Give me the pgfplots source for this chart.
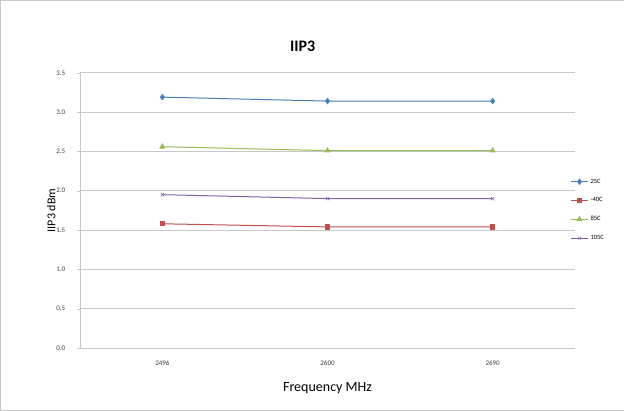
\documentclass[border=0pt]{standalone}
\usepackage{pgfplots}
\pgfplotsset{compat=1.18}
\usepackage{fontspec}
\setmainfont{Carlito}
\definecolor{sblue}{RGB}{74,126,187}
\definecolor{sred}{RGB}{192,80,77}
\definecolor{sgreen}{RGB}{155,187,89}
\definecolor{spurple}{RGB}{128,100,162}
\definecolor{gridc}{RGB}{200,200,200}
\begin{document}
\begin{tikzpicture}[x=1pt,y=1pt]
\draw[gridc,fill=white] (0.5,0.5) rectangle (623.5,410.5);
\begin{axis}[
  at={(80pt,63pt)}, anchor=south west,
  scale only axis, width=495pt, height=275pt,
  xmin=-0.5, xmax=2.5, ymin=0, ymax=3.5,
  xtick={0,1,2}, xticklabels={2496,2600,2690},
  ytick={0,0.5,...,3.5},
  /pgf/number format/assume math mode=true,
  tick label style={font=\fontsize{7}{8}\selectfont, text=black!75},
  yticklabel style={xshift=-8pt, /pgf/number format/.cd,fixed,fixed zerofill,precision=1},
  xticklabel style={yshift=-6pt},
  ymajorgrids, major grid style={gridc, line width=0.8pt},
  axis line style={gridc},
  axis x line*=bottom, axis y line*=left,
  x axis line style={-}, y axis line style={-},
  xtick style={draw=none},
  ytick style={gridc}, tick align=outside, major tick length=3pt,
  title={\textbf{IIP3}}, title style={font=\fontsize{16}{18}\selectfont, at={(0.45,1)}, yshift=12pt},
  xlabel={Frequency MHz}, xlabel style={font=\fontsize{14}{16}\selectfont, yshift=-10pt},
  ylabel={IIP3 dBm}, ylabel style={font=\fontsize{12}{14}\selectfont, yshift=-6pt},
  legend style={at={(1.0,0.63)}, anchor=north west, draw=none, fill=none,
    font=\fontsize{6.5}{7}\selectfont, row sep=9pt, xshift=-8pt},
  legend cell align=left,
  every axis plot/.append style={line width=1pt},
]
\addplot[sblue, mark=diamond*, mark size=2.5pt] coordinates {(0,3.19) (1,3.14) (2,3.14)};
\addlegendentry{25C}
\addplot[sred, mark=square*, mark size=2.2pt] coordinates {(0,1.58) (1,1.54) (2,1.54)};
\addlegendentry{-40C}
\addplot[sgreen, mark=triangle*, mark size=2.6pt] coordinates {(0,2.56) (1,2.51) (2,2.51)};
\addlegendentry{85C}
\addplot[spurple, mark=x, mark size=2.5pt, mark options={line width=0.5pt}] coordinates {(0,1.95) (1,1.90) (2,1.90)};
\addlegendentry{105C}
\end{axis}
\end{tikzpicture}
\end{document}
